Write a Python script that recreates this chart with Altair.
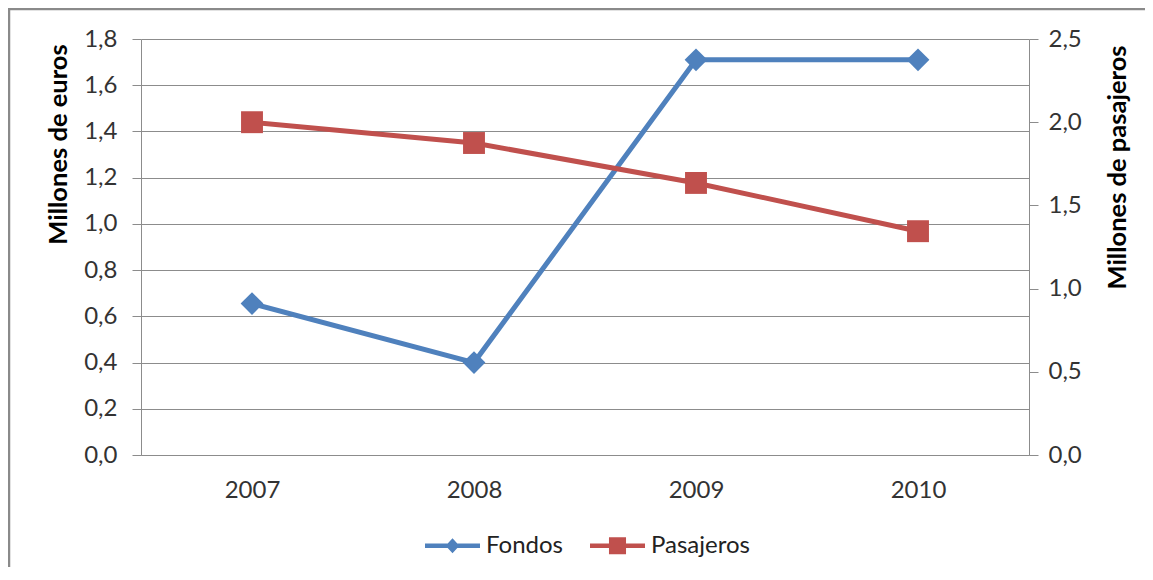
import altair as alt
import pandas as pd

years = ["2007", "2008", "2009", "2010"]
fondos = [0.655, 0.40, 1.71, 1.71]
pasajeros = [2.0, 1.875, 1.635, 1.345]
series = ["Fondos", "Pasajeros"]
left_ticks = [0.0, 0.2, 0.4, 0.6, 0.8, 1.0, 1.2, 1.4, 1.6, 1.8]
right_ticks = [0.0, 0.5, 1.0, 1.5, 2.0, 2.5]

BLUE = "#4F81BD"
RED = "#C0504D"
GRID = "#8C8C8C"
FONT = "Lato"
LBL = 24
TTL = 25.5

df_f = pd.DataFrame({"year": years, "value": fondos, "series": "Fondos"})
df_p = pd.DataFrame({"year": years, "value": pasajeros, "series": "Pasajeros"})
df_leg = pd.DataFrame({"series": series})

W, H = 888, 416

x_enc = alt.X("year:O", scale=alt.Scale(type="point", padding=0.5),
              axis=alt.Axis(title=None, labelAngle=0, ticks=False, tickSize=0,
                            domain=True, domainColor=GRID, grid=False,
                            labelBaseline="middle", labelPadding=35,
                            labelFont=FONT, labelFontSize=LBL, labelColor="#333333"))

y_left = alt.Y("value:Q", scale=alt.Scale(domain=[0, 1.8], nice=False),
               axis=alt.Axis(title="Millones de euros", orient="left", values=left_ticks,
                             labelExpr="replace(format(datum.value, '.1f'), '.', ',')",
                             grid=True, gridColor=GRID, gridWidth=1,
                             domain=True, domainColor=GRID, ticks=True, tickColor=GRID,
                             tickSize=9, labelPadding=15,
                             labelFont=FONT, labelFontSize=LBL, labelColor="#333333",
                             titleFont=FONT, titleFontSize=TTL, titleFontWeight="bold",
                             titleColor="#000000", titleAngle=270, titleX=-83, titleY=105,
                             titleAlign="center", titleBaseline="middle"))

y_right = alt.Y("value:Q", scale=alt.Scale(domain=[0, 2.5], nice=False),
                axis=alt.Axis(title="Millones de pasajeros", orient="right", values=right_ticks,
                              labelExpr="replace(format(datum.value, '.1f'), '.', ',')",
                              grid=False, domain=True, domainColor=GRID, ticks=True,
                              tickColor=GRID, tickSize=9, labelPadding=10,
                              labelFont=FONT, labelFontSize=LBL, labelColor="#333333",
                              titleFont=FONT, titleFontSize=TTL, titleFontWeight="bold",
                              titleColor="#000000", titleAngle=270, titleX=88, titleY=128,
                              titleAlign="center", titleBaseline="middle"))

f_line = alt.Chart(df_f).mark_line(color=BLUE, strokeWidth=5).encode(x=x_enc, y=y_left)
f_pts = alt.Chart(df_f).mark_point(shape="diamond", filled=True, color=BLUE, size=520,
                                   opacity=1).encode(x=x_enc, y=y_left)

# custom legend symbols: unit path spans [-1, 1] -> sqrt(size) pixels
path_f = ("M-1,-0.08L1,-0.08L1,0.08L-1,0.08Z "
          "M0,-0.27L0.25,0L0,0.27L-0.25,0Z")
path_p = ("M-1,-0.08L1,-0.08L1,0.08L-1,0.08Z "
          "M-0.31,-0.31L0.31,-0.31L0.31,0.31L-0.31,0.31Z")

legend_pts = alt.Chart(df_leg).mark_point(filled=True, opacity=1, size=3025).encode(
    x=alt.value(-5000), y=alt.value(5000),
    color=alt.Color("series:N", scale=alt.Scale(domain=series, range=[BLUE, RED]),
                    legend=alt.Legend(title=None, orient="none", direction="horizontal",
                                      legendX=284, legendY=479, symbolSize=3025,
                                      symbolStrokeWidth=0, labelOffset=6,
                                      columnPadding=27, padding=0,
                                      labelFont=FONT, labelFontSize=LBL,
                                      labelColor="#222222")),
    shape=alt.Shape("series:N", scale=alt.Scale(domain=series, range=[path_f, path_p])),
)

border_left = alt.Chart(alt.Data(values=[{}])).mark_rule(color="#8A8A8A", strokeWidth=2.5).encode(
    x=alt.value(-132), y=alt.value(-31), y2=alt.value(540))
border_top = alt.Chart(alt.Data(values=[{}])).mark_rule(color="#8A8A8A", strokeWidth=2.5).encode(
    x=alt.value(-133), x2=alt.value(1020), y=alt.value(-30))

left = alt.layer(f_line, f_pts, legend_pts, border_left, border_top)

p_line = alt.Chart(df_p).mark_line(color=RED, strokeWidth=5).encode(x=x_enc, y=y_right)
p_pts = alt.Chart(df_p).mark_point(shape="square", filled=True, color=RED, size=480,
                                   opacity=1).encode(x=x_enc, y=y_right)
right = alt.layer(p_line, p_pts)

chart = alt.layer(left, right).resolve_scale(y="independent").properties(
    width=W, height=H,
    autosize=alt.AutoSizeParams(type="none"),
    padding={"left": 133, "top": 31, "right": 116, "bottom": 112},
    background="white",
).configure_view(stroke=None)

chart.save("out.html", embed_options={"renderer": "svg", "actions": False})
